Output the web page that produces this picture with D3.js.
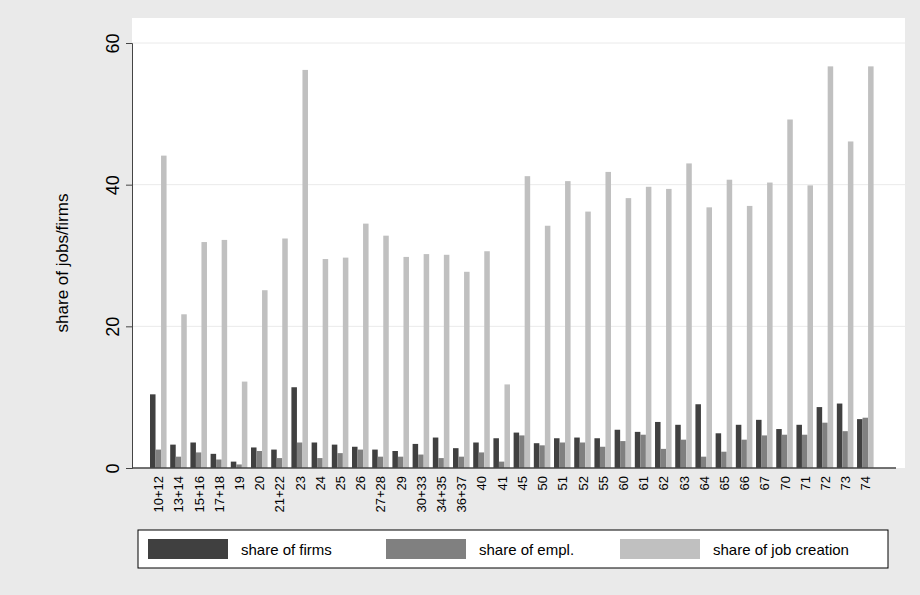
<!DOCTYPE html>
<html><head><meta charset="utf-8">
<script src="https://cdn.jsdelivr.net/npm/d3@7"></script>
<style>body{margin:0;background:#eaeaea}svg{display:block}</style>
</head><body><svg id="c" width="920" height="595"></svg>
<script>
const categories = ["10+12","13+14","15+16","17+18","19","20","21+22","23","24","25","26","27+28","29","30+33","34+35","36+37","40","41","45","50","51","52","55","60","61","62","63","64","65","66","67","70","71","72","73","74"];
const firms = [10.4,3.3,3.6,2.0,0.9,2.9,2.6,11.4,3.6,3.3,3.0,2.6,2.4,3.4,4.3,2.8,3.6,4.2,5.0,3.5,4.2,4.3,4.2,5.4,5.1,6.5,6.1,9.0,4.9,6.1,6.8,5.5,6.1,8.6,9.1,6.9];
const empl = [2.6,1.6,2.2,1.2,0.5,2.4,1.4,3.6,1.4,2.1,2.6,1.6,1.6,1.9,1.4,1.6,2.2,0.9,4.6,3.2,3.6,3.6,3.0,3.8,4.7,2.7,4.0,1.6,2.3,4.0,4.6,4.7,4.7,6.4,5.2,7.1];
const jobs = [44.1,21.7,31.9,32.2,12.2,25.1,32.4,56.2,29.5,29.7,34.5,32.8,29.8,30.2,30.1,27.7,30.6,11.8,41.2,34.2,40.5,36.2,41.8,38.1,39.7,39.4,43.0,36.8,40.7,37.0,40.3,49.2,39.9,56.7,46.1,56.7];
const yTicks = [0,20,40,60];
const series = [
  {name:"share of firms", values:firms, color:"#404040"},
  {name:"share of empl.", values:empl, color:"#808080"},
  {name:"share of job creation", values:jobs, color:"#c0c0c0"}
];

const svg = d3.select("#c");
const L = 132, R = 905, T = 18, B = 468;
svg.append("rect").attr("x",L).attr("y",T).attr("width",R-L).attr("height",B-T).attr("fill","#fff");

const y = d3.scaleLinear().domain([0,60]).range([B,43]);
const x = d3.scaleBand().domain(categories).range([150,873.6]).paddingInner(0.18).paddingOuter(0);
const xs = d3.scaleBand().domain(series.map(s=>s.name)).range([0,x.bandwidth()]).padding(0);

// gridlines
svg.selectAll(".grid").data(yTicks.slice(1)).enter().append("line")
  .attr("x1",L).attr("x2",R).attr("y1",d=>y(d)).attr("y2",d=>y(d))
  .attr("stroke","#eaeaea");

series.forEach(s=>{
  svg.append("g").selectAll("rect").data(s.values).enter().append("rect")
    .attr("x",(d,i)=>x(categories[i])+xs(s.name))
    .attr("width",xs.bandwidth())
    .attr("y",d=>y(d)).attr("height",d=>B-y(d))
    .attr("fill",s.color);
});

// y axis
const ya = svg.append("g").attr("transform",`translate(${L},0)`)
  .call(d3.axisLeft(y).tickValues(yTicks).tickSize(6));
ya.selectAll("text").attr("transform","rotate(-90)").attr("x",0).attr("y",-13)
  .attr("text-anchor","middle").attr("dy",0)
  .style("font-family","Liberation Sans, Arial").style("font-size","18px").attr("fill","#000");
ya.selectAll("line,path").attr("stroke","#444");

svg.append("text").attr("transform",`translate(68,${(T+B)/2+20}) rotate(-90)`)
  .attr("text-anchor","middle").style("font-family","Liberation Sans, Arial").style("font-size","17px")
  .text("share of jobs/firms");

// x axis
svg.append("line").attr("x1",L).attr("x2",896).attr("y1",B).attr("y2",B).attr("stroke","#444").attr("stroke-width",1.5);
svg.append("g").selectAll("text").data(categories).enter().append("text")
  .attr("transform",d=>`translate(${x(d)+x.bandwidth()/2+5},${B+8}) rotate(-90)`)
  .attr("text-anchor","end")
  .style("font-family","Liberation Sans, Arial").style("font-size","13px")
  .text(d=>d);

// legend
const lg = svg.append("g");
lg.append("rect").attr("x",138).attr("y",530).attr("width",750).attr("height",38).attr("fill","#fff").attr("stroke","#000");
const lx = [148,386,620];
series.forEach((s,i)=>{
  lg.append("rect").attr("x",lx[i]).attr("y",539).attr("width",80).attr("height",20).attr("fill",s.color);
  lg.append("text").attr("x",lx[i]+93).attr("y",555).style("font-family","Liberation Sans, Arial").style("font-size","15px").text(s.name);
});
</script></body></html>
